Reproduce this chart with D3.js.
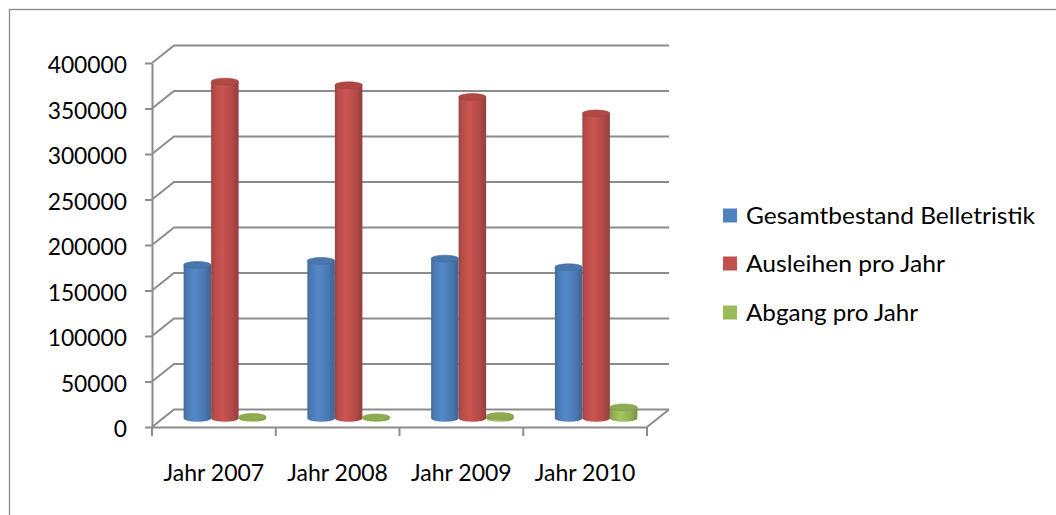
<!DOCTYPE html>
<html>
<head>
<meta charset="utf-8">
<script src="https://cdn.jsdelivr.net/npm/d3@7"></script>
<style>
  html, body { margin: 0; padding: 0; background: #fff; }
  svg { display: block; }
</style>
</head>
<body>
<svg id="chart" width="1056" height="515"></svg>
<script>
// ---- data ----
const categories = ["Jahr 2007", "Jahr 2008", "Jahr 2009", "Jahr 2010"];
const seriesNames = ["Gesamtbestand Belletristik", "Ausleihen pro Jahr", "Abgang pro Jahr"];
const gesamtbestand = [168500, 173000, 175500, 166000];
const ausleihen = [370000, 366000, 353000, 335000];
const abgang = [1500, 1000, 2500, 12000];
const yTicks = [0, 50000, 100000, 150000, 200000, 250000, 300000, 350000, 400000];
const seriesColors = ["#4F81BD", "#C0504D", "#9BBB59"];

const seriesValues = [gesamtbestand, ausleihen, abgang];

// ---- layout ----
const svg = d3.select("#chart");
const FONT = "Lato, 'Open Sans', sans-serif";
const plotLeft = 152, plotRight = 647;
const depthX = 22, depthY = -17.5;           // back wall offset
const midX = depthX / 2, midY = depthY / 2;  // cylinders sit mid-depth

const y = d3.scaleLinear().domain([0, 400000]).range([427, 63]);
const x = d3.scaleBand().domain(categories).range([plotLeft, plotRight]).paddingInner(0).paddingOuter(0);
const xs = d3.scaleBand().domain(seriesNames).range([0, x.bandwidth()]).paddingInner(0).paddingOuter(0.75);

// chart border
svg.append("rect")
  .attr("x", 9.5).attr("y", 9.5).attr("width", 1200).attr("height", 700)
  .attr("fill", "none").attr("stroke", "#8a8a8a").attr("stroke-width", 1.3);

const GRID = "#8c8c8c";
const grid = svg.append("g").attr("fill", "none").attr("stroke", GRID).attr("stroke-width", 2);

// back-wall gridlines + side-wall diagonals
yTicks.forEach(v => {
  const yy = y(v);
  grid.append("path")
    .attr("d", `M${plotLeft},${yy} L${plotLeft + depthX},${yy + depthY} L${plotRight + depthX},${yy + depthY}`);
});
// floor right edge
grid.append("path")
  .attr("d", `M${plotRight},${y(0)} L${plotRight + depthX},${y(0) + depthY}`);

// ---- y axis ----
const yAxis = d3.axisLeft(y).tickValues(yTicks).tickSizeInner(7).tickSizeOuter(0).tickPadding(18)
  .tickFormat(d3.format("d"));
const gy = svg.append("g").attr("transform", `translate(${plotLeft},0)`).call(yAxis);
gy.select(".domain").attr("stroke", GRID).attr("stroke-width", 2);
gy.selectAll(".tick line").attr("stroke", GRID).attr("stroke-width", 2);
gy.selectAll(".tick text")
  .attr("font-family", FONT).attr("font-size", 22.8).attr("fill", "#000")
  .attr("y", 2.5);

// ---- x axis ----
const xAxis = d3.axisBottom(x).tickSize(0).tickPadding(38);
const gx = svg.append("g").attr("transform", `translate(0,${y(0)})`).call(xAxis);
gx.select(".domain").attr("stroke", GRID).attr("stroke-width", 2);
gx.selectAll(".tick text")
  .attr("font-family", FONT).attr("font-size", 23).attr("fill", "#000");
// category boundary tick marks
const bounds = categories.map(c => x(c)).concat([plotRight]);
gx.selectAll(".bound").data(bounds).enter().append("line")
  .attr("class", "bound")
  .attr("x1", d => d).attr("x2", d => d).attr("y1", 0).attr("y2", 9)
  .attr("stroke", GRID).attr("stroke-width", 2);

// ---- gradients ----
const defs = svg.append("defs");
seriesColors.forEach((c, i) => {
  const base = d3.color(c);
  const g = defs.append("linearGradient").attr("id", "cyl" + i)
    .attr("x1", "0%").attr("x2", "100%").attr("y1", "0%").attr("y2", "0%");
  g.append("stop").attr("offset", "0%").attr("stop-color", base.darker(0.55));
  g.append("stop").attr("offset", "12%").attr("stop-color", base.darker(0.15));
  g.append("stop").attr("offset", "40%").attr("stop-color", base.brighter(0.15));
  g.append("stop").attr("offset", "75%").attr("stop-color", base.darker(0.2));
  g.append("stop").attr("offset", "100%").attr("stop-color", base.darker(0.7));
});

// ---- cylinders ----
const bars = svg.append("g");
categories.forEach((cat, ci) => {
  seriesNames.forEach((s, si) => {
    const v = seriesValues[si][ci];
    const w = xs.bandwidth();
    const left = x(cat) + xs(s) + midX;
    const right = left + w;
    const rx = w / 2, ry = 3.4;
    const base = y(0) + midY;
    const top = y(v) + midY;
    const g = bars.append("g");
    g.append("path")
      .attr("d", `M${left},${top} L${left},${base} A${rx},${ry} 0 0 0 ${right},${base} L${right},${top} Z`)
      .attr("fill", `url(#cyl${si})`);
    g.append("ellipse")
      .attr("cx", left + rx).attr("cy", top).attr("rx", rx).attr("ry", ry)
      .attr("fill", d3.color(seriesColors[si]).darker(0.25))
      .attr("stroke", d3.color(seriesColors[si]).darker(0.5)).attr("stroke-width", 0.6);
  });
});

// ---- legend ----
const legendBaselines = [224, 272, 321];
const legendWidths = [289, 199, 172];
const legend = svg.append("g");
seriesNames.forEach((s, i) => {
  legend.append("rect")
    .attr("x", 723).attr("y", legendBaselines[i] - 15.5).attr("width", 14).attr("height", 14)
    .attr("fill", seriesColors[i]);
  legend.append("text")
    .attr("x", 746).attr("y", legendBaselines[i])
    .attr("font-family", FONT).attr("font-size", 23.5).attr("fill", "#000")
    .attr("textLength", legendWidths[i]).attr("lengthAdjust", "spacingAndGlyphs")
    .text(s);
});
</script>
</body>
</html>
